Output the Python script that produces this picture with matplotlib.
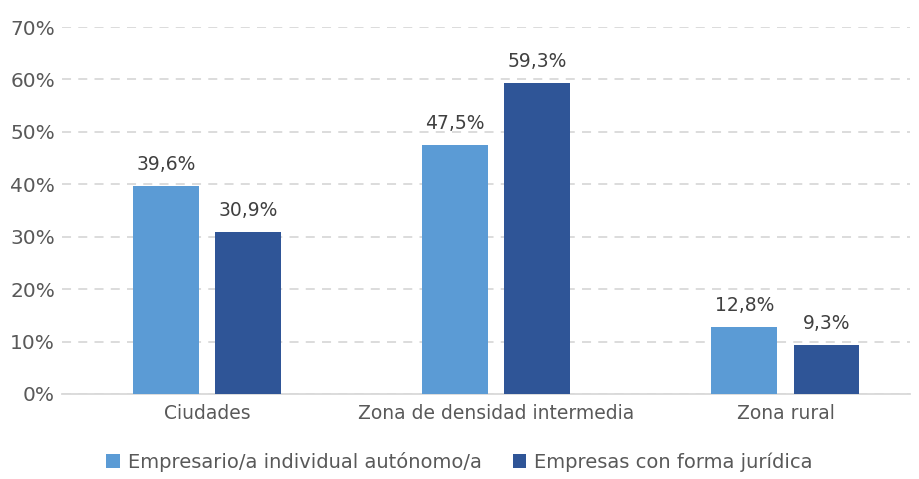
import numpy as np
import matplotlib.pyplot as plt

categories = ['Ciudades', 'Zona de densidad intermedia', 'Zona rural']
autonomo = [39.6, 47.5, 12.8]
juridica = [30.9, 59.3, 9.3]
series_names = ['Empresario/a individual autónomo/a', 'Empresas con forma jurídica']

plt.rcParams['font.family'] = ['DejaVu Sans']
fig = plt.figure(figsize=(9.19, 4.79), dpi=100)
ax = fig.add_axes([0.0675, 0.1775, 0.9225, 0.766])

x = np.arange(len(categories))
w = 0.228
off = 0.142
b1 = ax.bar(x - off, autonomo, w, color='#5B9BD5', label=series_names[0], zorder=3)
b2 = ax.bar(x + off, juridica, w, color='#2F5597', label=series_names[1], zorder=3)

for bars, vals in [(b1, autonomo), (b2, juridica)]:
    for r, v in zip(bars, vals):
        ax.text(r.get_x() + r.get_width() / 2, v + 2.3, f'{v:.1f}%'.replace('.', ','),
                ha='center', va='bottom', fontsize=13.5, color='#404040')

ax.set_ylim(0, 70)
ax.set_xlim(-0.502, 2.43)
ax.set_yticks(np.arange(0, 71, 10))
ax.set_yticklabels([f'{t}%' for t in range(0, 71, 10)], fontsize=14.5, color='#595959')
ax.set_xticks(x)
ax.set_xticklabels(categories, fontsize=13.5, color='#595959')
ax.tick_params(length=0, pad=5)
ax.tick_params(axis='x', pad=7)
ax.yaxis.grid(True, color='#D9D9D9', linestyle=(0, (5, 4)), linewidth=1.3, zorder=0)
for s in ['top', 'right', 'left']:
    ax.spines[s].set_visible(False)
ax.spines['bottom'].set_color('#D9D9D9')
ax.spines['bottom'].set_linewidth(1.3)

fig.legend(loc='lower center', bbox_to_anchor=(0.5, -0.022), ncol=2, frameon=False,
           fontsize=14, labelcolor='#595959', handlelength=0.7, handleheight=0.7,
           handletextpad=0.4, columnspacing=1.6)

fig.savefig('out.png', dpi=100)
